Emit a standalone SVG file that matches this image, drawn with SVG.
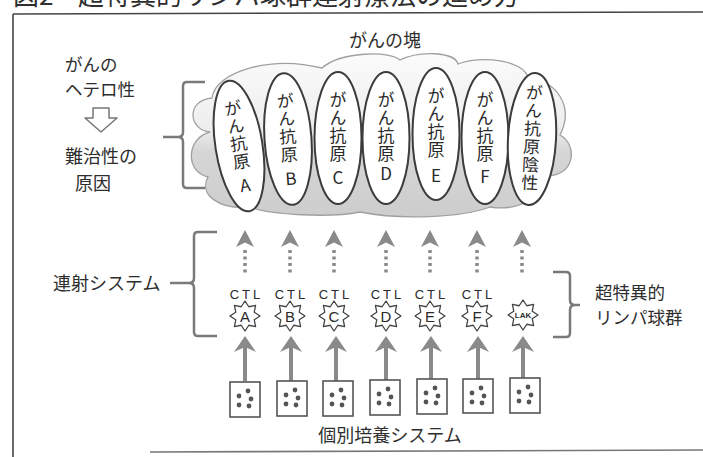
<svg xmlns="http://www.w3.org/2000/svg" xmlns:xlink="http://www.w3.org/1999/xlink" width="703" height="457" viewBox="0 0 703 457">
<style>
  .jp { font-family: "Noto Sans CJK JP", "Noto Sans", sans-serif; fill: #2e2e2e; }
  .lat { font-family: "Liberation Sans", Arial, sans-serif; fill: #2e2e2e; }
  .ag { stroke: #3c3c3c; stroke-width: 2; fill: #ffffff; }
  .agt { font-family: "Noto Sans CJK JP", sans-serif; font-size: 17px; fill: #2a2a2a; writing-mode: vertical-rl; text-orientation: upright; letter-spacing: 1px; }
  .brk { fill: none; stroke: #7a7a7a; stroke-width: 2.5; stroke-linejoin: round; }
  .star { fill: #ffffff; stroke: #444; stroke-width: 1.3; stroke-linejoin: round; }
  .box { fill: #ffffff; stroke: #555; stroke-width: 1.6; }
  .dot { fill: #555; }
  .ctl { font-family: "Liberation Sans", Arial, sans-serif; font-size: 13px; letter-spacing: 3px; fill: #2a2a2a; text-anchor: middle; }
  .sl { font-family: "Liberation Sans", Arial, sans-serif; font-size: 15px; fill: #2a2a2a; text-anchor: middle; }
  .head { fill: #8a8a8a; }
  .dshaft { stroke: #8a8a8a; stroke-width: 3.5; stroke-dasharray: 3 3.5; fill: none; }
  .sshaft { stroke: #8a8a8a; stroke-width: 4; fill: none; }
</style>
<defs>
  <linearGradient id="cloudFill" x1="0" y1="0" x2="0" y2="1">
    <stop offset="0" stop-color="#fbfbfb"/>
    <stop offset="0.45" stop-color="#eeeeee"/>
    <stop offset="0.6" stop-color="#d6d6d6"/>
    <stop offset="1" stop-color="#cdcdcd"/>
  </linearGradient>
  <polygon id="star" class="star" points="0,-15 3.83,-9.24 10.6,-10.6 9.24,-3.83 15,0 9.24,3.83 10.6,10.6 3.83,9.24 0,15 -3.83,9.24 -10.6,10.6 -9.24,3.83 -15,0 -9.24,-3.83 -10.6,-10.6 -3.83,-9.24"/>
  <g id="darrow">
    <path class="head" d="M0,0 L9,17 L0,12.5 L-9,17 Z"/>
    <line class="dshaft" x1="0" y1="20" x2="0" y2="45"/>
  </g>
  <g id="sarrow">
    <path class="head" d="M0,0 L11,16 L0,11 L-11,16 Z"/>
    <line class="sshaft" x1="0" y1="10" x2="0" y2="45"/>
  </g>
  <g id="dots">
    <circle class="dot" cx="-6" cy="-3" r="2.4"/>
    <circle class="dot" cx="3" cy="-8" r="2.4"/>
    <circle class="dot" cx="6" cy="0" r="2.4"/>
    <circle class="dot" cx="-6" cy="6" r="2.4"/>
    <circle class="dot" cx="4" cy="7" r="2.4"/>
  </g>
</defs>

<rect width="703" height="457" fill="#ffffff"/>

<!-- title (cut off at top) -->
<text class="jp" x="13" y="5" font-size="26" fill="#333">図2<tspan x="78">超特異的リンパ球群連射療法の進め方</tspan></text>

<!-- frame -->
<g id="frame" fill="none" stroke="#444" stroke-width="1.6">
  <line x1="13" y1="14" x2="703" y2="12"/>
  <line x1="13" y1="14" x2="13" y2="457"/>
  <line x1="150" y1="452" x2="703" y2="450" stroke="#777"/>
</g>

<!-- left labels -->
<g id="hetero">
  <text class="jp" x="65" y="71" font-size="17.5">がんの<tspan x="65" dy="25">ヘテロ性</tspan></text>
  <path d="M93,108 L109,108 L109,118 L117,118 L101,132 L85,118 L93,118 Z" fill="#fff" stroke="#777" stroke-width="1.5" stroke-linejoin="round"/>
  <text class="jp" x="65" y="163" font-size="18">難治性の<tspan x="75" dy="27">原因</tspan></text>
</g>

<g id="brackets">
  <path class="brk" d="M205,82 L187,82 Q183,82 183,86 L183,132 Q183,137 178,137 L163,137 M178,137 Q183,137 183,142 L183,184 Q183,188 187,188 L205,188"/>
  <path class="brk" d="M217,232 L198,232 Q194,232 194,236 L194,278 Q194,283 189,283 L170,283 M189,283 Q194,283 194,288 L194,332 Q194,336 198,336 L217,336"/>
  <path class="brk" d="M553,272 L566,272 Q570,272 570,276 L570,300 Q570,305 575,305 L580,305 M575,305 Q570,305 570,310 L570,333 Q570,337 566,337 L553,337"/>
</g>

<!-- tumor mass -->
<g id="tumor">
  <text class="jp" x="385" y="47" font-size="18" text-anchor="middle">がんの塊</text>
  <path d="M210,132 C188,130 186,100 212,98 C215,72 270,55 322,68 C340,52 390,50 400,60 C420,50 455,52 458,64 C480,55 525,60 528,78 C555,80 575,105 560,135 C578,145 575,175 548,176 C545,195 520,212 490,207 C460,218 400,220 360,212 C330,218 270,215 250,207 C220,210 198,195 208,177 C185,172 186,138 210,132 Z" fill="url(#cloudFill)" stroke="#a0a0a0" stroke-width="1.3"/>
</g>

<g id="antigenA" transform="translate(239,146) rotate(-9)">
  <ellipse class="ag" rx="23.5" ry="66"/>
  <text class="agt" x="0" y="-47">がん抗原<tspan dy="6">A</tspan></text>
</g>
<g id="antigenB" transform="translate(288,139) rotate(-4)">
  <ellipse class="ag" rx="23.5" ry="66"/>
  <text class="agt" x="0" y="-47">がん抗原<tspan dy="6">B</tspan></text>
</g>
<g id="antigenC" transform="translate(338,138)">
  <ellipse class="ag" rx="23.5" ry="66"/>
  <text class="agt" x="0" y="-47">がん抗原<tspan dy="6">C</tspan></text>
</g>
<g id="antigenD" transform="translate(386,138)">
  <ellipse class="ag" rx="23.5" ry="66"/>
  <text class="agt" x="0" y="-47">がん抗原<tspan dy="2">D</tspan></text>
</g>
<g id="antigenE" transform="translate(436,134)">
  <ellipse class="ag" rx="23.5" ry="66"/>
  <text class="agt" x="0" y="-47">がん抗原<tspan dy="8">E</tspan></text>
</g>
<g id="antigenF" transform="translate(485,138)">
  <ellipse class="ag" rx="23.5" ry="66"/>
  <text class="agt" x="0" y="-47">がん抗原<tspan dy="5">F</tspan></text>
</g>
<g id="antigenNeg" transform="translate(532,139) rotate(3)">
  <ellipse class="ag" rx="24" ry="66"/>
  <text class="agt" x="0" y="-55">がん抗原陰性</text>
</g>

<!-- side labels -->
<text id="rensha" class="jp" x="53" y="290" font-size="18">連射システム</text>
<g id="lymph">
  <text class="jp" x="595" y="299" font-size="17.5">超特異的<tspan x="595" dy="25">リンパ球群</tspan></text>
</g>

<!-- connectors -->
<g id="connectors">
  <use xlink:href="#darrow" x="245" y="230"/>
  <use xlink:href="#darrow" x="290" y="230"/>
  <use xlink:href="#darrow" x="334" y="230"/>
  <use xlink:href="#darrow" x="386" y="230"/>
  <use xlink:href="#darrow" x="430" y="230"/>
  <use xlink:href="#darrow" x="477" y="230"/>
  <use xlink:href="#darrow" x="522" y="230"/>
  <use xlink:href="#sarrow" x="245" y="336"/>
  <use xlink:href="#sarrow" x="291" y="336"/>
  <use xlink:href="#sarrow" x="336" y="336"/>
  <use xlink:href="#sarrow" x="386" y="336"/>
  <use xlink:href="#sarrow" x="431" y="336"/>
  <use xlink:href="#sarrow" x="478" y="336"/>
  <use xlink:href="#sarrow" x="523" y="336"/>
</g>

<!-- CTL nodes -->
<g id="ctlA"><text class="ctl" x="246.5" y="299">CTL</text><use xlink:href="#star" x="245" y="316"/><text class="sl" x="245" y="321.5">A</text></g>
<g id="ctlB"><text class="ctl" x="291.5" y="299">CTL</text><use xlink:href="#star" x="290" y="316"/><text class="sl" x="290" y="321.5">B</text></g>
<g id="ctlC"><text class="ctl" x="335.5" y="299">CTL</text><use xlink:href="#star" x="334" y="316"/><text class="sl" x="334" y="321.5">C</text></g>
<g id="ctlD"><text class="ctl" x="387.5" y="299">CTL</text><use xlink:href="#star" x="386" y="316"/><text class="sl" x="386" y="321.5">D</text></g>
<g id="ctlE"><text class="ctl" x="431.5" y="299">CTL</text><use xlink:href="#star" x="430" y="316"/><text class="sl" x="430" y="321.5">E</text></g>
<g id="ctlF"><text class="ctl" x="478.5" y="299">CTL</text><use xlink:href="#star" x="477" y="316"/><text class="sl" x="477" y="321.5">F</text></g>
<g id="lak"><use xlink:href="#star" x="523" y="315"/><text class="lat" x="523" y="318" font-size="8" font-weight="bold" text-anchor="middle">LAK</text></g>

<!-- culture boxes -->
<g id="culture1"><rect class="box" x="230" y="382" width="30" height="35"/><use xlink:href="#dots" x="245" y="399"/></g>
<g id="culture2"><rect class="box" x="277" y="381" width="30" height="35"/><use xlink:href="#dots" x="292" y="398"/></g>
<g id="culture3"><rect class="box" x="323" y="381" width="30" height="35"/><use xlink:href="#dots" x="338" y="398"/></g>
<g id="culture4"><rect class="box" x="370" y="380" width="30" height="35"/><use xlink:href="#dots" x="385" y="397"/></g>
<g id="culture5"><rect class="box" x="417" y="379" width="30" height="35"/><use xlink:href="#dots" x="432" y="396"/></g>
<g id="culture6"><rect class="box" x="463" y="379" width="30" height="34"/><use xlink:href="#dots" x="478" y="396"/></g>
<g id="culture7"><rect class="box" x="510" y="378" width="30" height="35"/><use xlink:href="#dots" x="525" y="395"/></g>

<text id="kobetsu" class="jp" x="390" y="442" font-size="18" text-anchor="middle">個別培養システム</text>
</svg>
